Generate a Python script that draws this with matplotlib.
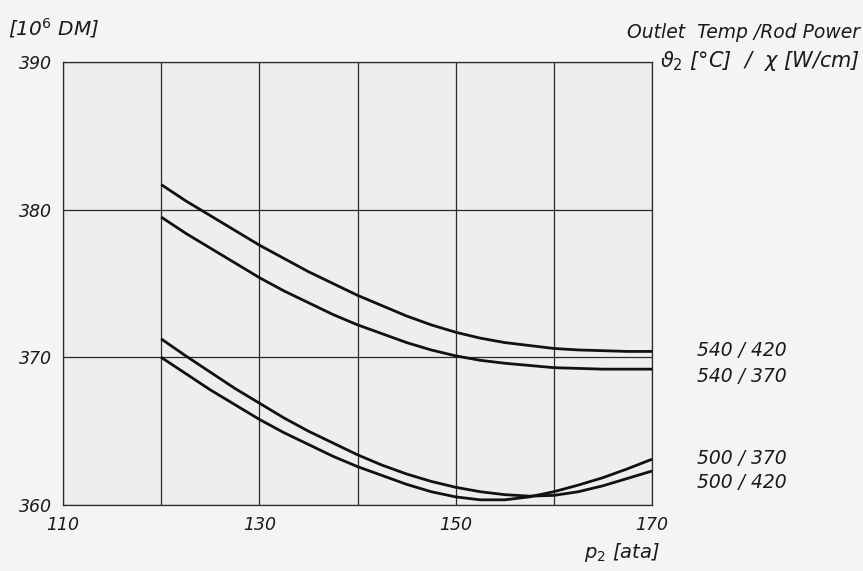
import matplotlib
matplotlib.use("Agg")
import matplotlib.pyplot as plt

# Pressure p2 [ata]
pressure = [120, 122.5, 125, 127.5, 130, 132.5, 135, 137.5, 140, 142.5, 145,
            147.5, 150, 152.5, 155, 157.5, 160, 162.5, 165, 167.5, 170]

# Plant cost [10^6 DM] for each outlet temperature / rod power combination
cost_540_420 = [381.7, 380.6, 379.6, 378.6, 377.6, 376.7, 375.8, 375.0, 374.2, 373.5, 372.8,
                372.2, 371.7, 371.3, 371.0, 370.8, 370.6, 370.5, 370.45, 370.4, 370.4]
cost_540_370 = [379.5, 378.4, 377.4, 376.4, 375.4, 374.5, 373.7, 372.9, 372.2, 371.6, 371.0,
                370.5, 370.1, 369.8, 369.6, 369.45, 369.3, 369.25, 369.2, 369.2, 369.2]
cost_500_420 = [371.25, 370.1, 369.0, 367.9, 366.9, 365.9, 365.0, 364.2, 363.4, 362.7, 362.1,
                361.6, 361.2, 360.9, 360.7, 360.6, 360.65, 360.9, 361.3, 361.8, 362.3]
cost_500_370 = [370.0, 368.9, 367.8, 366.8, 365.8, 364.9, 364.1, 363.3, 362.6, 362.0, 361.4,
                360.9, 360.55, 360.35, 360.35, 360.55, 360.9, 361.35, 361.85, 362.45, 363.1]

series = [
    ("540/420", cost_540_420),
    ("540/370", cost_540_370),
    ("500/370", cost_500_370),
    ("500/420", cost_500_420),
]

x_ticks = [110, 130, 150, 170]
x_ticklabels = ["110", "130", "150", "170"]
y_ticks = [360, 370, 380, 390]
y_ticklabels = ["360", "370", "380", "390"]

W, H = 863, 571
fig = plt.figure(figsize=(W / 100, H / 100), dpi=100, facecolor="#f4f4f4")
ax = fig.add_axes([63 / W, 1 - 505 / H, (652 - 63) / W, (505 - 62) / H])
ax.set_facecolor("#eeeeee")

ax.set_xlim(110, 170)
ax.set_ylim(360, 390)

# grid every 10 ata and every 10e6 DM
for gx in range(110, 171, 10):
    ax.axvline(gx, color="#2a2a2a", lw=0.9, zorder=1)
for gy in range(360, 391, 10):
    ax.axhline(gy, color="#2a2a2a", lw=0.9, zorder=1)

for spine in ax.spines.values():
    spine.set_color("#2a2a2a")
    spine.set_linewidth(0.9)

for name, vals in series:
    ax.plot(pressure, vals, color="#111111", lw=2.0, solid_capstyle="butt", zorder=3)

ax.set_xticks(x_ticks)
ax.set_xticklabels(x_ticklabels)
ax.set_yticks(y_ticks)
ax.set_yticklabels(y_ticklabels)
ax.tick_params(length=0, labelsize=12.5, colors="#1a1a1a", pad=8)
for lab in ax.get_xticklabels() + ax.get_yticklabels():
    lab.set_fontstyle("italic")

txt = dict(fontstyle="italic", color="#1a1a1a", transform=fig.transFigure)

fig.text(8 / W, 1 - 28 / H, r"[10$^{6}$ DM]", fontsize=14.5, va="center", ha="left", **txt)
fig.text(860 / W, 1 - 33 / H, "Outlet  Temp /Rod Power", fontsize=13.5, va="center", ha="right", **txt)
fig.text(860 / W, 1 - 61 / H, r"$\vartheta_2$ [°C]  /  $\chi$ [W/cm]", fontsize=15, va="center", ha="right", **txt)
fig.text(660 / W, 1 - 552 / H, r"p$_2$ [ata]", fontsize=14, va="center", ha="right", **txt)

label_pos = {"540/420": 350, "540/370": 376, "500/370": 458, "500/420": 482}
for name, _ in series:
    fig.text(697 / W, 1 - label_pos[name] / H, name.replace("/", " / "),
             fontsize=13.5, va="center", ha="left", **txt)

fig.savefig("out.png", dpi=100, facecolor=fig.get_facecolor())
